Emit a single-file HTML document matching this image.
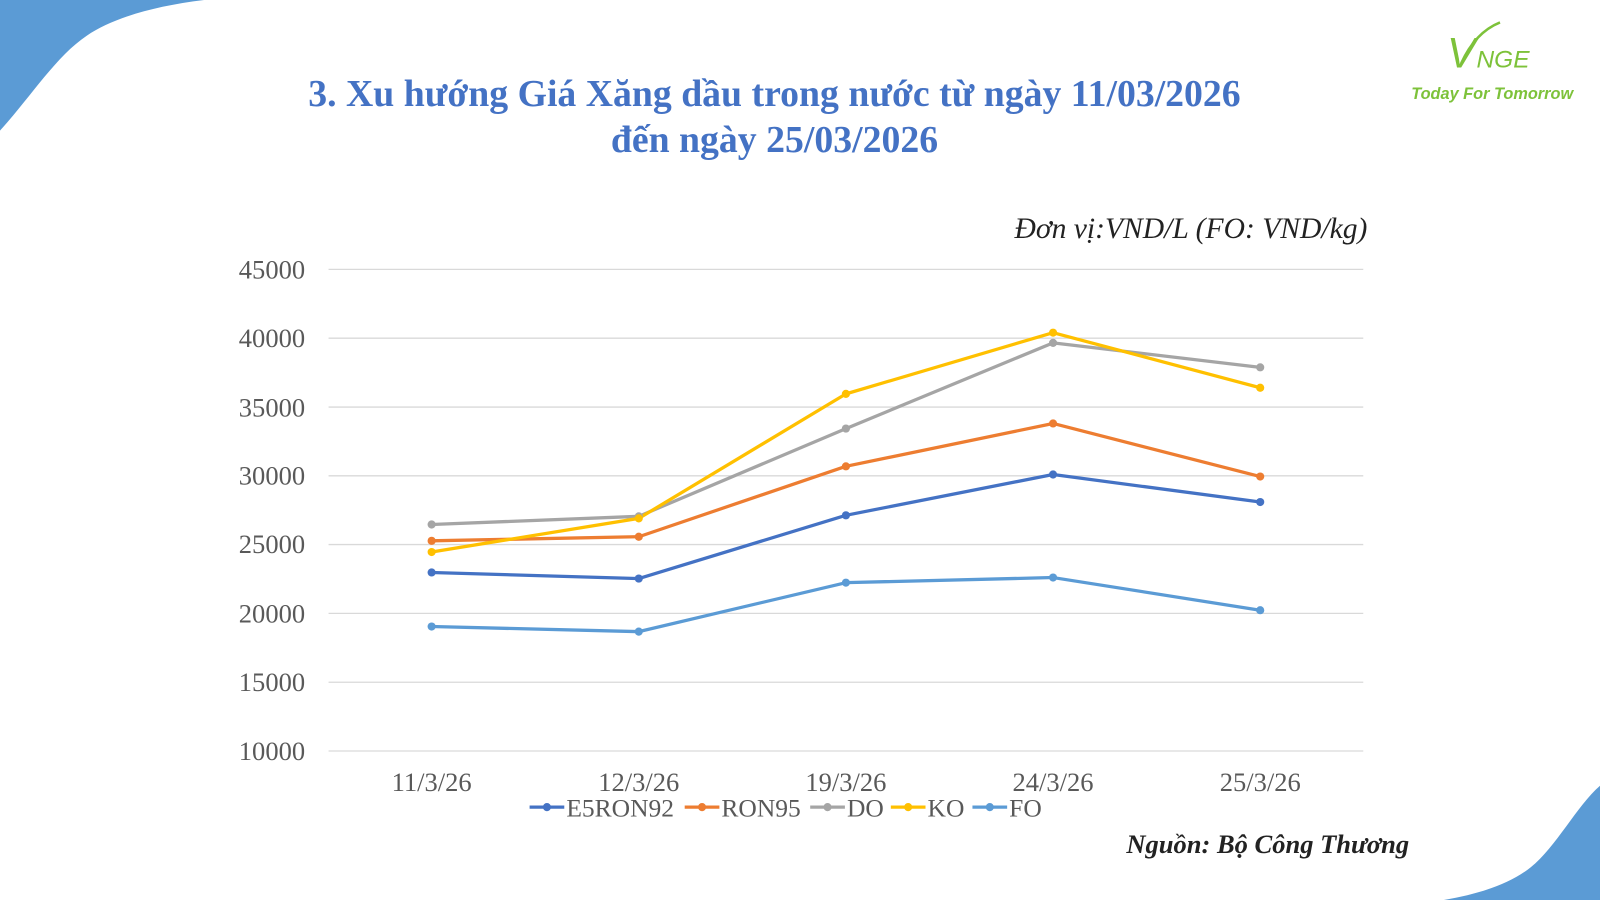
<!DOCTYPE html>
<html><head><meta charset="utf-8"><style>html,body{margin:0;padding:0;background:#fff;overflow:hidden}svg{display:block}</style></head>
<body>
<svg width="1600" height="900" viewBox="0 0 1568 882" preserveAspectRatio="none" xmlns="http://www.w3.org/2000/svg" font-family="Liberation Serif, serif">
<rect width="1568" height="882" fill="#fff"/>
<path d="M0,0 L200,0 C150,6 110,18 85,35 C55,55 30,95 0,128 Z" fill="#5B9BD5"/>
<path d="M1568,770 C1545,790 1525,830 1500,850 C1480,866 1450,876 1415,882 L1568,882 Z" fill="#5B9BD5"/>
<text x="759" y="104" text-anchor="middle" font-size="37" font-weight="bold" fill="#4472C4">3. Xu hướng Giá Xăng dầu trong nước từ ngày 11/03/2026</text>
<text x="759" y="149" text-anchor="middle" font-size="37" font-weight="bold" fill="#4472C4">đến ngày 25/03/2026</text>
<text x="1418" y="66" font-family="Liberation Sans, sans-serif" font-size="42" font-style="italic" fill="#7DC23A">V</text>
<path d="M1432,62 C1442,40 1455,28 1470,22" stroke="#7DC23A" stroke-width="2.5" fill="none"/>
<text x="1447" y="66" font-family="Liberation Sans, sans-serif" font-size="24" font-style="italic" fill="#7DC23A">NGE</text>
<text x="1383" y="97" font-family="Liberation Sans, sans-serif" font-size="16" font-style="italic" font-weight="bold" fill="#7DC23A">Today For Tomorrow</text>
<text x="1340" y="233" text-anchor="end" font-size="29" font-style="italic" fill="#222">Đơn vị:VND/L (FO: VND/kg)</text>
<g stroke="#d9d9d9" stroke-width="1.3">
<line x1="322" x2="1336" y1="264" y2="264"/><line x1="322" x2="1336" y1="331.4" y2="331.4"/><line x1="322" x2="1336" y1="398.9" y2="398.9"/><line x1="322" x2="1336" y1="466.3" y2="466.3"/><line x1="322" x2="1336" y1="533.7" y2="533.7"/><line x1="322" x2="1336" y1="601.1" y2="601.1"/><line x1="322" x2="1336" y1="668.6" y2="668.6"/><line x1="322" x2="1336" y1="736" y2="736"/>
</g>
<g font-size="26" fill="#595959" text-anchor="end">
<text x="299" y="273">45000</text><text x="299" y="340">40000</text><text x="299" y="408">35000</text><text x="299" y="475">30000</text><text x="299" y="542">25000</text><text x="299" y="610">20000</text><text x="299" y="677">15000</text><text x="299" y="745">10000</text>
</g>
<g font-size="26" fill="#595959" text-anchor="middle">
<text x="423" y="775">11/3/26</text><text x="626" y="775">12/3/26</text><text x="829" y="775">19/3/26</text><text x="1032" y="775">24/3/26</text><text x="1235" y="775">25/3/26</text>
</g>
<g fill="none" stroke-width="3.2" stroke-linejoin="round">
<polyline stroke="#5B9BD5" points="423,614 626,619 829,571 1032,566 1235,598"/>
<polyline stroke="#4472C4" points="423,561 626,567 829,505 1032,465 1235,492"/>
<polyline stroke="#ED7D31" points="423,530 626,526 829,457 1032,415 1235,467"/>
<polyline stroke="#A5A5A5" points="423,514 626,506 829,420 1032,336 1235,360"/>
<polyline stroke="#FFC000" points="423,541 626,508 829,386 1032,326 1235,380"/>
</g>
<g fill="#5B9BD5"><circle cx="423" cy="614" r="4"/><circle cx="626" cy="619" r="4"/><circle cx="829" cy="571" r="4"/><circle cx="1032" cy="566" r="4"/><circle cx="1235" cy="598" r="4"/></g>
<g fill="#4472C4"><circle cx="423" cy="561" r="4"/><circle cx="626" cy="567" r="4"/><circle cx="829" cy="505" r="4"/><circle cx="1032" cy="465" r="4"/><circle cx="1235" cy="492" r="4"/></g>
<g fill="#ED7D31"><circle cx="423" cy="530" r="4"/><circle cx="626" cy="526" r="4"/><circle cx="829" cy="457" r="4"/><circle cx="1032" cy="415" r="4"/><circle cx="1235" cy="467" r="4"/></g>
<g fill="#A5A5A5"><circle cx="423" cy="514" r="4"/><circle cx="626" cy="506" r="4"/><circle cx="829" cy="420" r="4"/><circle cx="1032" cy="336" r="4"/><circle cx="1235" cy="360" r="4"/></g>
<g fill="#FFC000"><circle cx="423" cy="541" r="4"/><circle cx="626" cy="508" r="4"/><circle cx="829" cy="386" r="4"/><circle cx="1032" cy="326" r="4"/><circle cx="1235" cy="380" r="4"/></g>
<g stroke-width="3.2" font-size="25" fill="#595959">
<line x1="519" x2="553" y1="791" y2="791" stroke="#4472C4"/><circle cx="536" cy="791" r="4" fill="#4472C4"/><text x="555" y="800">E5RON92</text>
<line x1="671" x2="705" y1="791" y2="791" stroke="#ED7D31"/><circle cx="688" cy="791" r="4" fill="#ED7D31"/><text x="707" y="800">RON95</text>
<line x1="794" x2="828" y1="791" y2="791" stroke="#A5A5A5"/><circle cx="811" cy="791" r="4" fill="#A5A5A5"/><text x="830" y="800">DO</text>
<line x1="873" x2="907" y1="791" y2="791" stroke="#FFC000"/><circle cx="890" cy="791" r="4" fill="#FFC000"/><text x="909" y="800">KO</text>
<line x1="953" x2="987" y1="791" y2="791" stroke="#5B9BD5"/><circle cx="970" cy="791" r="4" fill="#5B9BD5"/><text x="989" y="800">FO</text>
</g>
<text x="1381" y="836" text-anchor="end" font-size="26" font-style="italic" font-weight="bold" fill="#222">Nguồn: Bộ Công Thương</text>
</svg>
</body></html>
